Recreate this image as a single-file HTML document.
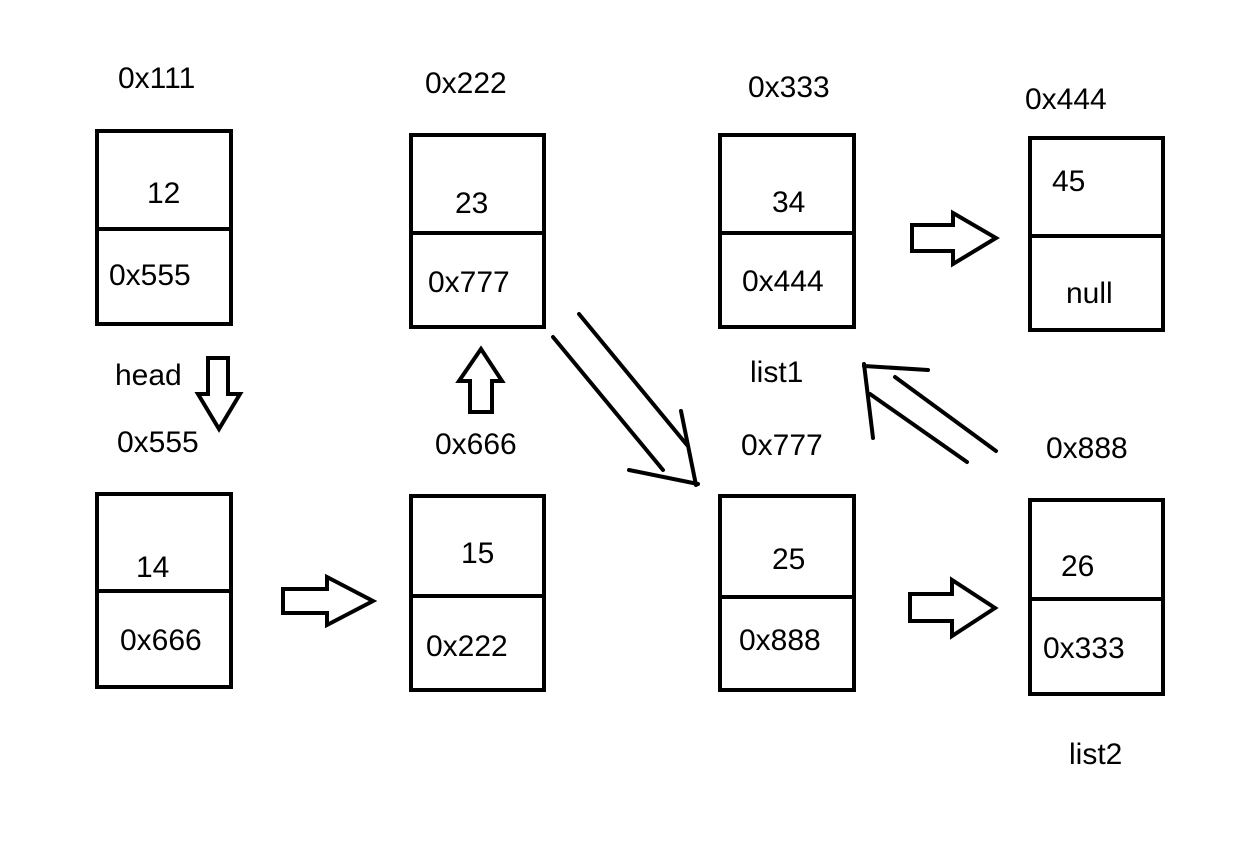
<!DOCTYPE html>
<html><head><meta charset="utf-8"><style>
html,body{margin:0;padding:0;background:#fff;}
svg{display:block;}
text{font-family:"Liberation Sans","DejaVu Sans",sans-serif;font-size:30px;fill:#000;}
</style></head><body>
<svg width="1260" height="852" viewBox="0 0 1260 852" xmlns="http://www.w3.org/2000/svg">
<g fill="none" stroke="#000" stroke-width="4">
<rect x="97" y="131" width="134" height="193"/><line x1="97" y1="229" x2="231" y2="229"/>
<rect x="411" y="135" width="133" height="192"/><line x1="411" y1="233" x2="544" y2="233"/>
<rect x="720" y="135" width="134" height="192"/><line x1="720" y1="233" x2="854" y2="233"/>
<rect x="1030" y="138" width="133" height="192"/><line x1="1030" y1="236" x2="1163" y2="236"/>
<rect x="97" y="494" width="134" height="193"/><line x1="97" y1="591" x2="231" y2="591"/>
<rect x="411" y="496" width="133" height="194"/><line x1="411" y1="596" x2="544" y2="596"/>
<rect x="720" y="496" width="134" height="194"/><line x1="720" y1="597" x2="854" y2="597"/>
<rect x="1030" y="500" width="133" height="194"/><line x1="1030" y1="599" x2="1163" y2="599"/>
<!-- block arrows -->
<polygon points="208,358 228,358 228,394 240,394 219,429 198,394 208,394"/>
<polygon points="481,349 502,381 492,381 492,412 470,412 470,381 459,381"/>
<polygon points="283,589 327,589 327,577 373,601 327,625 327,613 283,613"/>
<polygon points="912,225 953,225 953,213 996,238 953,264 953,251 912,251"/>
<polygon points="910,594 952,594 952,580 995,608 952,636 952,621 910,621"/>
<!-- diagonal arrows -->
<g stroke-linecap="round">
<line x1="553" y1="337" x2="663" y2="470"/>
<line x1="579" y1="314" x2="687" y2="445"/>
<line x1="629" y1="470" x2="698" y2="484"/>
<line x1="681" y1="411" x2="696" y2="485"/>
<line x1="873" y1="438" x2="864" y2="364"/>
<line x1="864" y1="366" x2="928" y2="370"/>
<line x1="870" y1="394" x2="967" y2="462"/>
<line x1="895" y1="377" x2="996" y2="451"/>
</g>
</g>
<text x="118" y="88">0x111</text>
<text x="425" y="93">0x222</text>
<text x="748" y="97">0x333</text>
<text x="1025" y="109">0x444</text>
<text x="147" y="203">12</text>
<text x="109" y="285">0x555</text>
<text x="455" y="213">23</text>
<text x="428" y="292">0x777</text>
<text x="772" y="212">34</text>
<text x="742" y="291">0x444</text>
<text x="1052" y="191">45</text>
<text x="1066" y="303">null</text>
<text x="115" y="385">head</text>
<text x="117" y="452">0x555</text>
<text x="435" y="454">0x666</text>
<text x="750" y="382">list1</text>
<text x="741" y="455">0x777</text>
<text x="1046" y="458">0x888</text>
<text x="136" y="577">14</text>
<text x="120" y="650">0x666</text>
<text x="461" y="563">15</text>
<text x="426" y="656">0x222</text>
<text x="772" y="569">25</text>
<text x="739" y="650">0x888</text>
<text x="1061" y="576">26</text>
<text x="1043" y="658">0x333</text>
<text x="1069" y="764">list2</text>
</svg>
</body></html>
